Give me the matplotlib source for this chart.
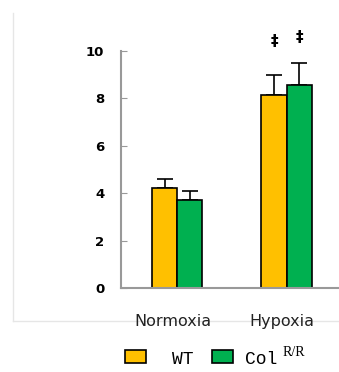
import matplotlib.pyplot as plt
import numpy as np
from matplotlib.lines import Line2D
from matplotlib.patches import Rectangle

groups = ['Normoxia', 'Hypoxia']
wt = [4.23, 8.14]
wt_err = [0.37, 0.86]
col = [3.71, 8.56]
col_err = [0.38, 0.94]
marks = ['‡', '‡']
mark_y = [10.39, 10.58]
colors = ['#FFC000', '#00B050']

plt.rcParams['font.family'] = ['DejaVu Sans']

W, H = 339, 372
fig = plt.figure(figsize=(W / 100, H / 100), dpi=100)
ax = fig.add_axes([121 / W, 1 - 288 / H, 1 - 121 / W, (288 - 51) / H])

x = np.arange(len(groups))
w = 0.23
ax.bar(x - w / 2, wt, w, color=colors[0], edgecolor='black', linewidth=1.2, zorder=2)
ax.bar(x + w / 2, col, w, color=colors[1], edgecolor='black', linewidth=1.2, zorder=2)
ax.errorbar(x - w / 2, wt, yerr=[np.zeros(2), wt_err], fmt='none', ecolor='black',
            elinewidth=1.2, capsize=5.5, capthick=1.2, zorder=1)
ax.errorbar(x + w / 2, col, yerr=[np.zeros(2), col_err], fmt='none', ecolor='black',
            elinewidth=1.2, capsize=5.5, capthick=1.2, zorder=1)
for i in range(2):
    ax.text(x[1] + (i - 0.5) * w, mark_y[i], marks[i], ha='center', va='center',
            fontsize=11, fontweight='bold')

ax.set_xlim(-0.515, 1.48)
ax.set_ylim(0, 10)
ax.set_yticks([0, 2, 4, 6, 8, 10])
ax.set_xticks(x - 0.04)
ax.set_xticklabels(groups, fontsize=11.5, color='#222222')
ax.tick_params(axis='x', length=0, pad=19)
ax.tick_params(axis='y', direction='in', length=4, color='#999999', labelsize=9.5, pad=12)
for t in ax.get_yticklabels():
    t.set_fontweight('bold')
for s in ['top', 'right']:
    ax.spines[s].set_visible(False)
for s in ['left', 'bottom']:
    ax.spines[s].set_color('#999999')
    ax.spines[s].set_linewidth(1.5)
ax.patch.set_alpha(0)

# faint frame of the original panel
fig.add_artist(Line2D([13 / W, 13 / W], [1 - 13 / H, 1 - 321 / H], color='#e6e6e6', lw=1, zorder=0))
fig.add_artist(Line2D([13 / W, 1], [1 - 321 / H, 1 - 321 / H], color='#e6e6e6', lw=1, zorder=0))

# legend
for x0, c in zip([125, 212], colors):
    fig.add_artist(Rectangle((x0 / W, 1 - 363 / H), 21 / W, 13 / H, transform=fig.transFigure,
                             facecolor=c, edgecolor='black', linewidth=1.2))
mono = {'family': 'Liberation Mono', 'size': 13}
fig.text(172 / W, 1 - 360 / H, 'WT', va='center', ha='left', fontdict=mono)
fig.text(245 / W, 1 - 360 / H, 'Col', va='center', ha='left', fontdict=mono)
fig.text(283 / W, 1 - 352 / H, 'R/R', va='center', ha='left',
         fontdict={'family': 'Liberation Serif', 'size': 10})

fig.savefig('out.png', dpi=100)
